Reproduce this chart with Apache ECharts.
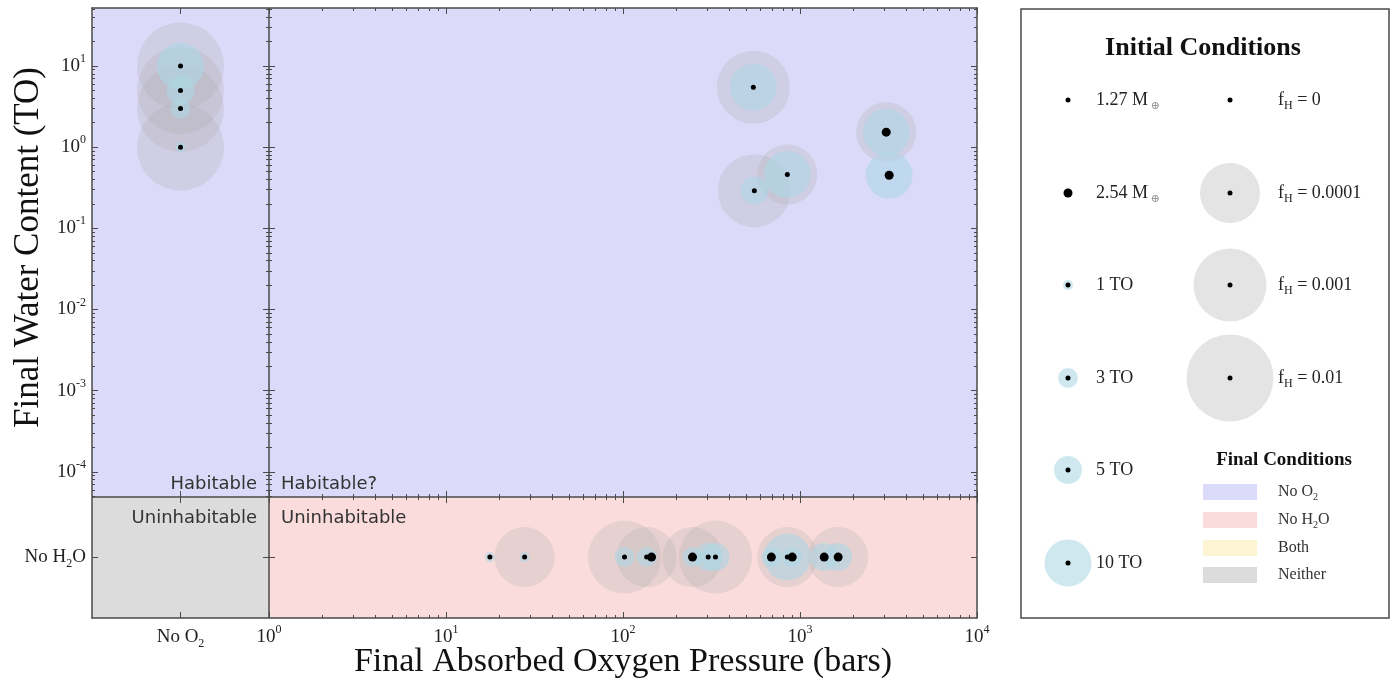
<!DOCTYPE html>
<html>
<head>
<meta charset="utf-8">
<script src="https://cdn.jsdelivr.net/npm/echarts@6/dist/echarts.min.js"></script>
<style>
  html, body { margin: 0; padding: 0; background: #ffffff; }
  #chart { width: 1393px; height: 680px; }
</style>
</head>
<body>
<div id="chart"></div>
<script>
// ---- Simulated planets: final state and initial conditions ----
// pressureBars = 0 means "No O2", waterTO = 0 means "No H2O"
const pressureBars = [0, 0, 0, 0, 545, 3070, 3190, 848, 552,
  17.7, 27.8, 102, 136, 145, 247, 303, 333, 689, 848, 904, 1370, 1643];
const waterTO = [10, 5, 3, 1, 5.48, 1.53, 0.45, 0.46, 0.29,
  0, 0, 0, 0, 0, 0, 0, 0, 0, 0, 0, 0, 0];
const massEarth = [1.27, 1.27, 1.27, 1.27, 1.27, 2.54, 2.54, 1.27, 1.27,
  1.27, 1.27, 1.27, 1.27, 2.54, 2.54, 1.27, 1.27, 2.54, 1.27, 2.54, 2.54, 2.54];
const initialTO = [10, 5, 3, 1, 10, 10, 10, 10, 5,
  1, 1, 3, 3, 1, 3, 5, 5, 3, 10, 3, 5, 5];
const hydrogenFrac = [0.01, 0.01, 0.01, 0.01, 0.001, 0.0001, 0, 0.0001, 0.001,
  0, 0.0001, 0.001, 0.0001, 0, 0.0001, 0, 0.001, 0, 0.0001, 0, 0, 0.0001];

// ---- Axis ticks (log10 units) ----
const xMajorTicks = [-0.5, 0, 1, 2, 3, 4];
const yMajorTicks = [-5.05, -4, -3, -2, -1, 0, 1];

// ---- Legend entries ----
const legendMasses = [1.27, 2.54];
const legendWaters = [1, 3, 5, 10];
const legendFracs = [0, 0.0001, 0.001, 0.01];
const finalConditionNames = ['No O₂', 'No H₂O', 'Both', 'Neither'];

// ---- Scale layout (log10 units) ----
const X_MIN = -1, X_MAX = 4, NO_O2_X = -0.5;
const Y_MIN = -5.8, Y_MAX = 1.714, NO_H2O_Y = -5.05, Y_SPLIT = -4.31;
const GRID = { left: 92, top: 8, right: 977, bottom: 618 };
const PX_PER_X = (GRID.right - GRID.left) / (X_MAX - X_MIN);
const PX_PER_Y = (GRID.bottom - GRID.top) / (Y_MAX - Y_MIN);
const splitXOffset = (0 - X_MIN) * PX_PER_X;          // vertical divider from left edge
const splitYOffset = (Y_SPLIT - Y_MIN) * PX_PER_Y;    // horizontal divider from bottom edge

// ---- Marker styling ----
const massDotSize = { 1.27: 5, 2.54: 9 };
const waterHaloSize = { 1: 10, 3: 20, 5: 28, 10: 47 };
const fracDiskSize = { 0: 0, 0.0001: 60, 0.001: 73, 0.01: 87 };
const GREY_DISK = 'rgba(170,170,170,0.25)';
const GREY_KEY = '#e4e4e4';
const BLUE_HALO = 'rgba(173,216,230,0.58)';
const C_NO_O2 = '#dcdaf9';
const C_NO_H2O = '#fbdcdc';
const C_BOTH = '#fcf4d2';
const C_NEITHER = '#dcdcdc';
const FRAME = '#4a4a4a';
const SERIF = '"Liberation Serif", "DejaVu Serif", serif';
const SANS = '"DejaVu Sans", sans-serif';

const toX = p => (p > 0 ? Math.log10(p) : NO_O2_X);
const toY = w => (w > 0 ? Math.log10(w) : NO_H2O_Y);

// minor log ticks inside each decade
function minorTicks(fromDecade, toDecade, lo, hi) {
  const out = [];
  for (let n = fromDecade; n <= toDecade; n++) {
    for (let k = 2; k <= 9; k++) {
      const v = n + Math.log10(k);
      if (v > lo && v < hi) out.push(v);
    }
  }
  return out;
}
const xMinorTicks = minorTicks(0, 3, 0, X_MAX);
const yMinorTicks = minorTicks(-5, 1, Y_SPLIT, Y_MAX);

const tickRich = {
  b: { fontFamily: SERIF, fontSize: 19, color: '#222', lineHeight: 26 },
  s: { fontFamily: SERIF, fontSize: 12, color: '#222', verticalAlign: 'top' },
  u: { fontFamily: SERIF, fontSize: 12, color: '#222', verticalAlign: 'bottom' }
};

function xLabel(v) {
  if (Math.abs(v - NO_O2_X) < 1e-6) return '{b|No O}{u|2}';
  return '{b|10}{s|' + Math.round(v) + '}';
}
function yLabel(v) {
  if (Math.abs(v - NO_H2O_Y) < 1e-6) return '{b|No H}{u|2}{b|O}';
  return '{b|10}{s|' + Math.round(v) + '}';
}

function axisCfg(kind, pos, ticks, len, withLabels, withLine, offset) {
  const isX = kind === 'x';
  return {
    type: 'value',
    gridIndex: 0,
    min: isX ? X_MIN : Y_MIN,
    max: isX ? X_MAX : Y_MAX,
    position: pos,
    offset: offset || 0,
    z: 10,
    axisLine: { show: withLine, onZero: false, lineStyle: { color: FRAME, width: 1.5 } },
    axisTick: { show: true, inside: true, length: len, customValues: ticks,
      lineStyle: { color: FRAME, width: 1 } },
    axisLabel: withLabels ? {
      show: true, customValues: isX ? xMajorTicks : yMajorTicks,
      margin: 6, formatter: isX ? xLabel : yLabel, rich: tickRich
    } : { show: false },
    splitLine: { show: false }
  };
}

// ---- Build scatter layers ----
const greyData = [], blueData = [], blackData = [];
for (let i = 0; i < pressureBars.length; i++) {
  const x = toX(pressureBars[i]);
  const y = toY(waterTO[i]);
  const fd = fracDiskSize[hydrogenFrac[i]];
  if (fd > 0) greyData.push({ value: [x, y], symbolSize: fd });
  blueData.push({ value: [x, y], symbolSize: waterHaloSize[initialTO[i]] });
  blackData.push({ value: [x, y], symbolSize: massDotSize[massEarth[i]] });
}

const regionLabel = (pos, offset) => ({
  show: true, position: pos, distance: 9, offset: offset,
  fontFamily: SANS, fontSize: 18, color: '#333'
});

// ---- Legend panel ----
const LG = { left: 1021, top: 9, width: 368, height: 609 };
const legendRowsY = [100, 193, 285, 378, 470, 563];
const colLeftX = 1068, colLeftText = 1096, colRightX = 1230, colRightText = 1278;
const items = [];
items.push({ type: 'rect', shape: { x: LG.left, y: LG.top, width: LG.width, height: LG.height },
  style: { fill: '#fff', stroke: FRAME, lineWidth: 1.5 } });
items.push({ type: 'text', x: 1203, y: 48,
  style: { text: 'Initial Conditions', fontFamily: SERIF, fontSize: 26, fontWeight: 'bold',
    fill: '#111', align: 'center', verticalAlign: 'middle', textAlign: 'center', textVerticalAlign: 'middle' } });

const legendRich = {
  t: { fontFamily: SERIF, fontSize: 18, fill: '#222', color: '#222', lineHeight: 24 },
  e: { fontFamily: SERIF, fontSize: 11, fill: '#999', color: '#999', verticalAlign: 'bottom' },
  h: { fontFamily: SERIF, fontSize: 12, fill: '#222', color: '#222', verticalAlign: 'bottom' }
};
function legendText(x, y, txt, rich) {
  return { type: 'text', x: x, y: y,
    style: { text: txt, rich: rich || legendRich, align: 'left', verticalAlign: 'middle',
      textAlign: 'left', textVerticalAlign: 'middle' } };
}
function dot(x, y, d, fill) {
  return { type: 'circle', shape: { cx: x, cy: y, r: d / 2 }, style: { fill: fill } };
}
// left column: masses then initial water
legendMasses.forEach((m, i) => {
  const y = legendRowsY[i];
  items.push(dot(colLeftX, y, massDotSize[m], '#000'));
  items.push(legendText(colLeftText, y, '{t|' + m.toFixed(2) + ' M}{e| ⊕}'));
});
legendWaters.forEach((w, i) => {
  const y = legendRowsY[i + 2];
  items.push(dot(colLeftX, y, waterHaloSize[w], BLUE_HALO));
  items.push(dot(colLeftX, y, massDotSize[1.27], '#000'));
  items.push(legendText(colLeftText, y, '{t|' + w + ' TO}'));
});
// right column: hydrogen fraction
legendFracs.forEach((f, i) => {
  const y = legendRowsY[i];
  if (fracDiskSize[f] > 0) items.push(dot(colRightX, y, fracDiskSize[f], GREY_KEY));
  items.push(dot(colRightX, y, massDotSize[1.27], '#000'));
  items.push(legendText(colRightText, y, '{t|f}{h|H}{t| = ' + f + '}'));
});
// final-condition swatches
items.push({ type: 'text', x: 1284, y: 460,
  style: { text: 'Final Conditions', fontFamily: SERIF, fontSize: 19, fontWeight: 'bold',
    fill: '#111', align: 'center', verticalAlign: 'middle', textAlign: 'center', textVerticalAlign: 'middle' } });
const swatchColors = [C_NO_O2, C_NO_H2O, C_BOTH, C_NEITHER];
const swatchY = [492, 520, 548, 575];
const swatchRich = {
  t: { fontFamily: SERIF, fontSize: 16, fill: '#333', color: '#333', lineHeight: 20 },
  h: { fontFamily: SERIF, fontSize: 10, fill: '#333', color: '#333', verticalAlign: 'bottom' }
};
finalConditionNames.forEach((name, i) => {
  items.push({ type: 'rect', shape: { x: 1203, y: swatchY[i] - 8, width: 54, height: 16 },
    style: { fill: swatchColors[i] } });
  const parts = name.split('₂');
  const txt = parts.length > 1
    ? '{t|' + parts[0] + '}{h|2}' + (parts[1] ? '{t|' + parts[1] + '}' : '')
    : '{t|' + name + '}';
  items.push(legendText(colRightText, swatchY[i], txt, swatchRich));
});

// ---- Axis titles ----
const yTitleCenter = GRID.top + (Y_MAX - Y_SPLIT) * PX_PER_Y / 2;
const xTitleCenter = GRID.left + ((0 + X_MAX) / 2 - X_MIN) * PX_PER_X;
items.push({ type: 'text', x: 29, y: yTitleCenter - 5, rotation: Math.PI / 2,
  style: { text: 'Final Water Content (TO)', fontFamily: SERIF, fontSize: 35, fill: '#111',
    align: 'center', verticalAlign: 'middle', textAlign: 'center', textVerticalAlign: 'middle' } });
items.push({ type: 'text', x: xTitleCenter, y: 662,
  style: { text: 'Final Absorbed Oxygen Pressure (bars)', fontFamily: SERIF, fontSize: 34, fill: '#111',
    align: 'center', verticalAlign: 'middle', textAlign: 'center', textVerticalAlign: 'middle' } });

const chart = echarts.init(document.getElementById('chart'), null, { renderer: 'canvas' });
chart.setOption({
  animation: false,
  backgroundColor: '#ffffff',
  grid: { left: GRID.left, top: GRID.top, width: GRID.right - GRID.left, height: GRID.bottom - GRID.top },
  xAxis: [
    axisCfg('x', 'bottom', xMajorTicks, 6, true, true),
    axisCfg('x', 'bottom', xMinorTicks, 3, false, false),
    axisCfg('x', 'top', xMajorTicks, 6, false, true),
    axisCfg('x', 'top', xMinorTicks, 3, false, false),
    // ticks along the horizontal divider, both faces
    axisCfg('x', 'bottom', xMajorTicks, 6, false, false, -splitYOffset),
    axisCfg('x', 'bottom', xMinorTicks, 3, false, false, -splitYOffset),
    axisCfg('x', 'top', xMajorTicks, 6, false, false, -(GRID.bottom - GRID.top - splitYOffset)),
    axisCfg('x', 'top', xMinorTicks, 3, false, false, -(GRID.bottom - GRID.top - splitYOffset))
  ],
  yAxis: [
    axisCfg('y', 'left', yMajorTicks, 6, true, true),
    axisCfg('y', 'left', yMinorTicks, 3, false, false),
    axisCfg('y', 'right', yMajorTicks, 6, false, true),
    axisCfg('y', 'right', yMinorTicks, 3, false, false),
    // ticks along the vertical divider, both faces
    axisCfg('y', 'left', yMajorTicks, 6, false, false, -splitXOffset),
    axisCfg('y', 'left', yMinorTicks, 3, false, false, -splitXOffset),
    axisCfg('y', 'right', yMajorTicks, 6, false, false, -(GRID.right - GRID.left - splitXOffset)),
    axisCfg('y', 'right', yMinorTicks, 3, false, false, -(GRID.right - GRID.left - splitXOffset))
  ],
  graphic: { elements: items },
  series: [
    {
      name: 'regions', type: 'scatter', data: [], z: 1, silent: true,
      markArea: {
        silent: true,
        data: [
          [{ name: 'Habitable', xAxis: X_MIN, yAxis: Y_SPLIT, itemStyle: { color: C_NO_O2 },
             label: regionLabel('insideBottomRight', [-3, 5]) }, { xAxis: 0, yAxis: Y_MAX }],
          [{ name: 'Habitable?', xAxis: 0, yAxis: Y_SPLIT, itemStyle: { color: C_NO_O2 },
             label: regionLabel('insideBottomLeft', [3, 5]) }, { xAxis: X_MAX, yAxis: Y_MAX }],
          [{ name: 'Uninhabitable', xAxis: X_MIN, yAxis: Y_MIN, itemStyle: { color: C_NEITHER },
             label: regionLabel('insideTopRight', [-3, 3]) }, { xAxis: 0, yAxis: Y_SPLIT }],
          [{ name: 'Uninhabitable', xAxis: 0, yAxis: Y_MIN, itemStyle: { color: C_NO_H2O },
             label: regionLabel('insideTopLeft', [3, 3]) }, { xAxis: X_MAX, yAxis: Y_SPLIT }]
        ]
      },
      markLine: {
        silent: true, symbol: 'none',
        label: { show: false },
        lineStyle: { color: FRAME, width: 1.5, type: 'solid' },
        data: [{ xAxis: 0 }, { yAxis: Y_SPLIT }]
      }
    },
    { name: 'hydrogen fraction', type: 'scatter', z: 3, silent: true,
      itemStyle: { color: GREY_DISK, opacity: 1 }, data: greyData },
    { name: 'initial water', type: 'scatter', z: 4, silent: true,
      itemStyle: { color: BLUE_HALO, opacity: 1 }, data: blueData },
    { name: 'planet mass', type: 'scatter', z: 5, silent: true,
      itemStyle: { color: '#000', opacity: 1 }, data: blackData }
  ]
});
</script>
</body>
</html>
